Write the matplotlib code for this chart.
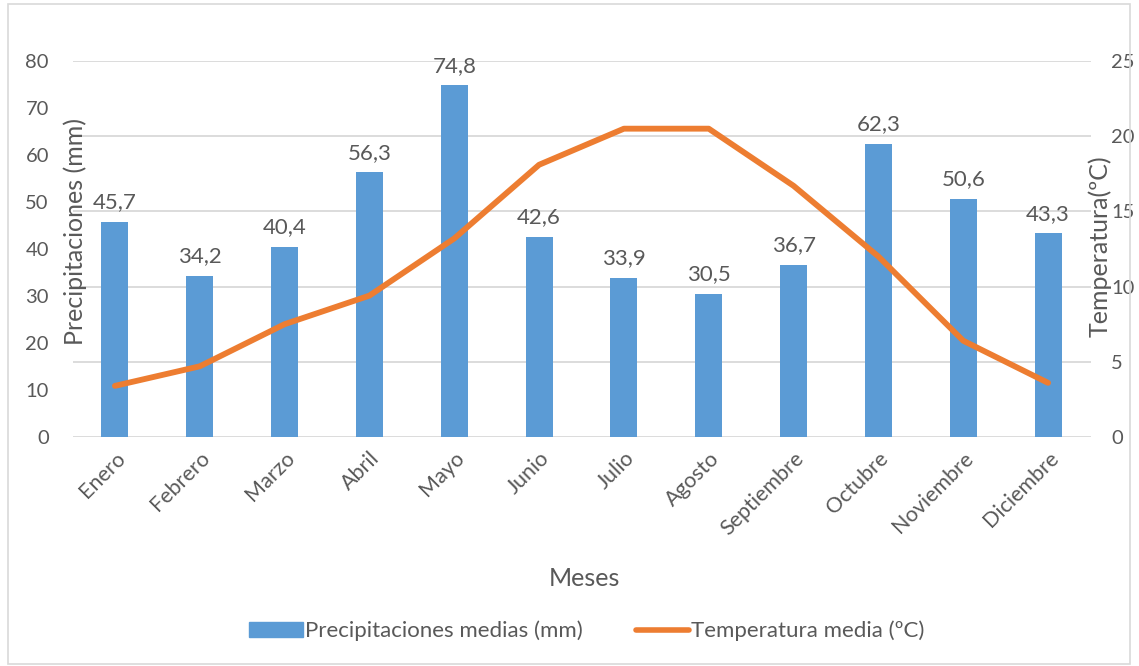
import matplotlib
matplotlib.use("Agg")
import matplotlib.pyplot as plt
from matplotlib.patches import Rectangle
from matplotlib.lines import Line2D

months = ["Enero", "Febrero", "Marzo", "Abril", "Mayo", "Junio", "Julio",
          "Agosto", "Septiembre", "Octubre", "Noviembre", "Diciembre"]
precip_mm = [45.7, 34.2, 40.4, 56.3, 74.8, 42.6, 33.9, 30.5, 36.7, 62.3, 50.6, 43.3]
temp_c = [3.4, 4.7, 7.5, 9.4, 13.2, 18.1, 20.5, 20.5, 16.7, 12.0, 6.4, 3.6]

left_ticks = [0, 10, 20, 30, 40, 50, 60, 70, 80]
right_ticks = [0, 5, 10, 15, 20, 25]

BLUE = "#5B9BD5"
ORANGE = "#ED7D31"
TEXT = "#595959"
GRID = "#D9D9D9"

plt.rcParams["font.family"] = ["Lato", "DejaVu Sans"]

W, H = 1139, 666
fig = plt.figure(figsize=(W / 100, H / 100), dpi=100)

ax = fig.add_axes([72.5 / W, 229 / H, 1018 / W, 376 / H])
ax2 = ax.twinx()

x = list(range(len(months)))
ax.bar(x, precip_mm, width=0.32, color=BLUE, zorder=2)
for xi, v in zip(x, precip_mm):
    ax.annotate(f"{v:.1f}".replace(".", ","), (xi, v), xytext=(0, 7),
                textcoords="offset points", ha="center", va="bottom",
                fontsize=16, color=TEXT)

ax2.plot(x, temp_c, color=ORANGE, lw=4.2, solid_capstyle="round",
         solid_joinstyle="round", zorder=3)

ax.set_xlim(-0.5, len(months) - 0.5)
ax.set_ylim(0, 80)
ax2.set_ylim(0, 25)
ax.set_yticks(left_ticks)
ax2.set_yticks(right_ticks)

# bars sit on the primary axes, drawn beneath the line axes
ax.set_zorder(ax2.get_zorder() - 1)
ax.patch.set_visible(False)
# horizontal gridlines follow the temperature scale (every 5 ºC)
for t in right_ticks:
    ax.axhline(t * 80 / 25, color=GRID, lw=1.3, zorder=0)

ax.set_xticks(x)
ax.set_xticklabels(months, rotation=45, ha="right", rotation_mode="anchor")
for a in (ax, ax2):
    for s in a.spines.values():
        s.set_visible(False)
    a.tick_params(length=0, labelsize=14.5, colors=TEXT)
ax.tick_params(axis="x", labelsize=15.5, pad=8)
ax.tick_params(axis="y", pad=17)
ax2.tick_params(axis="y", pad=15)

fig.text(75 / W, 1 - 232 / H, "Precipitaciones (mm)", rotation=90,
         ha="center", va="center", fontsize=18, color=TEXT)
fig.text(1100 / W, 1 - 246 / H, "Temperatura(ºC)", rotation=90,
         ha="center", va="center", fontsize=18, color=TEXT)
fig.text(584 / W, 1 - 578 / H, "Meses", ha="center", va="center",
         fontsize=18, color=TEXT)

handles = [Rectangle((0, 0), 1, 1, color=BLUE),
           Line2D([0], [0], color=ORANGE, lw=4, solid_capstyle="round")]
fig.legend(handles, ["Precipitaciones medias (mm)", "Temperatura media (ºC)"],
           loc="center", bbox_to_anchor=(587 / W, 1 - 631 / H), ncol=2,
           frameon=False, fontsize=16, labelcolor=TEXT, handlelength=2.4,
           handletextpad=0.1, columnspacing=2.4)

fig.add_artist(Rectangle((8 / W, 2 / H), 1122 / W, 660 / H, fill=False,
                         edgecolor=GRID, lw=1.2, transform=fig.transFigure))

fig.savefig("out.png", dpi=100)
